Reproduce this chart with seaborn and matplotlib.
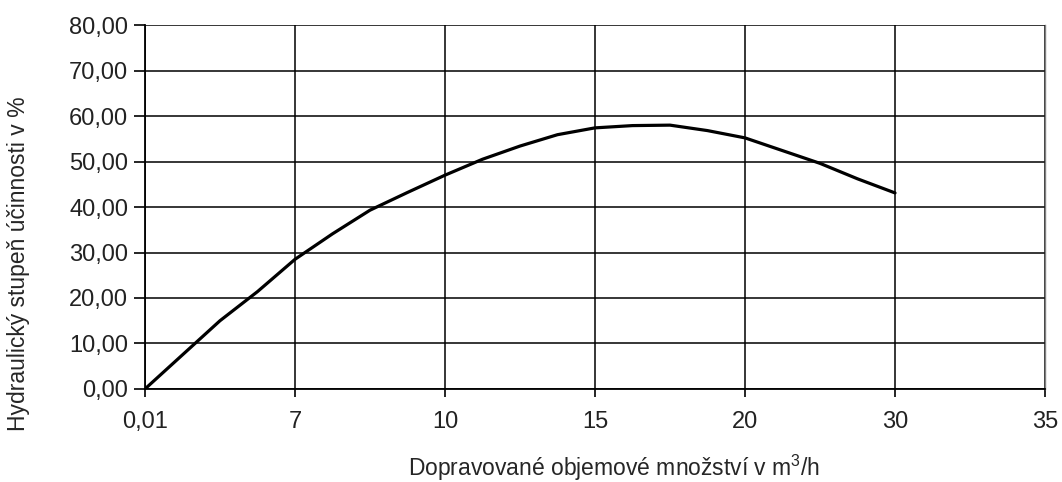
import matplotlib
matplotlib.use("Agg")
import matplotlib.pyplot as plt
import seaborn as sns
import pandas as pd
from matplotlib.ticker import FuncFormatter, MultipleLocator

# x axis is drawn as evenly spaced labelled stations
tick_labels = ["0,01", "7", "10", "15", "20", "30", "35"]

# curve, x given in station units (0 = "0,01", 5 = "30")
station = [0, 0.25, 0.5, 0.75, 1, 1.25, 1.5, 1.75, 2, 2.25, 2.5,
           2.75, 3, 3.25, 3.5, 3.75, 4, 4.25, 4.5, 4.75, 5]
efficiency = [0.0, 7.5, 15.0, 21.4, 28.5, 34.1, 39.3, 43.2, 47.0, 50.5, 53.4,
              55.9, 57.4, 57.9, 58.0, 56.8, 55.2, 52.4, 49.6, 46.2, 43.1]

df = pd.DataFrame({"station": station, "efficiency": efficiency})

sns.set_style("white")
plt.rcParams["font.family"] = ["Liberation Sans", "DejaVu Sans"]
plt.rcParams["mathtext.fontset"] = "custom"
plt.rcParams["mathtext.rm"] = "Liberation Sans"

fig = plt.figure(figsize=(10.62, 4.82), dpi=100)
ax = fig.add_axes([0.1365, 0.193, 0.8475, 0.755])

sns.lineplot(data=df, x="station", y="efficiency", ax=ax, color="black",
             linewidth=2.3, zorder=3)

ax.set_xlim(0, 6)
ax.set_ylim(0, 80)
ax.set_xticks(range(len(tick_labels)))
ax.set_xticklabels(tick_labels)
ax.yaxis.set_major_locator(MultipleLocator(10))
ax.yaxis.set_major_formatter(FuncFormatter(lambda v, p: f"{v:.2f}".replace(".", ",")))

ax.grid(True, color="black", linewidth=1.1)
ax.set_axisbelow(True)
for side in ["left", "bottom"]:
    ax.spines[side].set_color("black")
    ax.spines[side].set_linewidth(1.3)
ax.spines["top"].set_visible(False)
ax.spines["right"].set_color("#808080")
ax.spines["right"].set_linewidth(1.0)

ax.tick_params(axis="both", which="major", labelsize=17, colors="black",
               labelcolor="#222222", direction="out", width=1.2)
ax.tick_params(axis="y", length=8, pad=4)
ax.tick_params(axis="x", length=6, pad=10)
ax.tick_params(left=True, bottom=True)

ax.set_xlabel("Dopravované objemové množství v m$^{3}$/h", fontsize=16.5)
ax.set_ylabel("Hydraulický stupeň účinnosti v %", fontsize=16.5)
ax.xaxis.set_label_coords(0.521, -0.217)
ax.xaxis.label.set_va("center")
ax.yaxis.set_label_coords(-0.141, 0.343)
ax.yaxis.label.set_va("center")

fig.savefig("out.png", dpi=100)
